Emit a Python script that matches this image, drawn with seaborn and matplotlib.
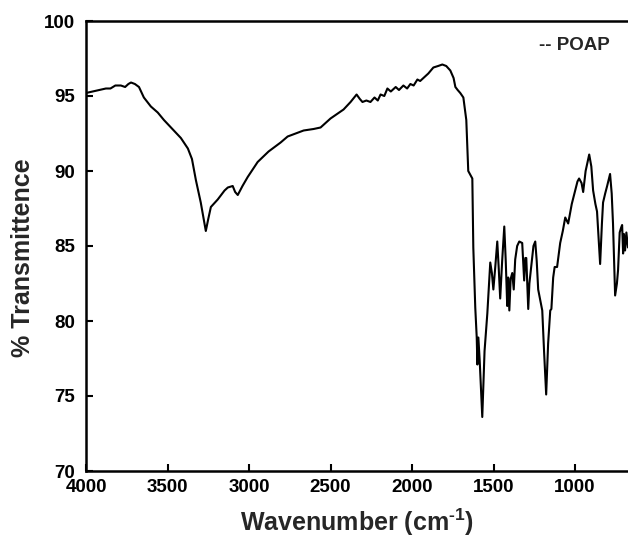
import matplotlib
matplotlib.use("Agg")
import matplotlib.pyplot as plt
import seaborn as sns
import pandas as pd

wavenumber = [
    4000, 3960, 3920, 3878, 3850, 3820, 3786, 3760, 3740, 3724, 3700, 3675,
    3645, 3602, 3560, 3522, 3470, 3418, 3375, 3350, 3326, 3296, 3265, 3250,
    3234, 3192, 3150, 3130, 3100, 3085, 3069, 3040, 3008, 2947, 2880, 2806,
    2763, 2665, 2604, 2561, 2500, 2420, 2377, 2340, 2320, 2304, 2280, 2255,
    2230, 2210, 2193, 2170, 2151, 2130, 2100, 2080, 2053, 2030, 2010, 1990,
    1967, 1950, 1930, 1900, 1869, 1840, 1814, 1790, 1765, 1745, 1734, 1720,
    1704, 1685, 1667, 1660, 1655, 1640, 1630, 1624, 1612, 1603, 1599, 1593,
    1585, 1569, 1555, 1538, 1520, 1510, 1501, 1490, 1477, 1468, 1459, 1447,
    1434, 1425, 1416, 1410, 1403, 1395, 1385, 1376, 1367, 1355, 1342, 1324,
    1318, 1312, 1305, 1299, 1293, 1287, 1280, 1269, 1255, 1244, 1235, 1226,
    1215, 1201, 1190, 1177, 1165, 1152, 1145, 1134, 1125, 1110, 1091, 1075,
    1060, 1042, 1020, 999, 985, 975, 960, 950, 935, 913, 900, 889,
    875, 865, 855, 846, 835, 828, 815, 803, 785, 775, 767, 754,
    743, 736, 726, 718, 711, 705, 700, 693, 685, 675,
]
transmittance = [
    95.2, 95.3, 95.4, 95.5, 95.5, 95.7, 95.7, 95.6, 95.8, 95.9, 95.8, 95.6,
    94.9, 94.3, 93.9, 93.4, 92.8, 92.2, 91.5, 90.8, 89.4, 87.9, 86.0, 86.8,
    87.6, 88.1, 88.7, 88.9, 89.0, 88.6, 88.4, 89.0, 89.6, 90.6, 91.3, 91.9,
    92.3, 92.7, 92.8, 92.9, 93.5, 94.1, 94.6, 95.1, 94.8, 94.6, 94.7, 94.6,
    94.9, 94.7, 95.1, 95.0, 95.5, 95.3, 95.6, 95.4, 95.7, 95.5, 95.8, 95.7,
    96.1, 96.0, 96.2, 96.5, 96.9, 97.0, 97.1, 97.0, 96.7, 96.2, 95.6, 95.4,
    95.2, 94.9, 93.4, 91.5, 90.0, 89.7, 89.5, 84.9, 80.9, 78.9, 77.1, 78.9,
    77.4, 73.6, 78.0, 80.5, 83.9, 83.2, 82.1, 83.5, 85.3, 83.5, 81.5, 84.0,
    86.3, 84.0, 81.0, 82.9, 80.7, 82.8, 83.2, 82.1, 84.1, 85.0, 85.3, 85.2,
    84.0, 82.7, 84.2, 84.2, 82.5, 80.8, 82.5, 83.6, 85.0, 85.3, 84.0, 82.1,
    81.5, 80.7, 78.0, 75.1, 78.5, 80.7, 80.8, 82.9, 83.6, 83.6, 85.2, 86.0,
    86.9, 86.5, 87.8, 88.7, 89.3, 89.5, 89.2, 88.6, 90.0, 91.1, 90.3, 88.7,
    87.8, 87.3, 85.5, 83.8, 86.5, 87.9, 88.5, 89.0, 89.8, 88.5, 86.5, 81.7,
    82.5, 83.4, 85.9, 86.2, 86.4, 84.5, 85.8, 84.7, 85.9, 84.9,
]
x_ticks = [4000, 3500, 3000, 2500, 2000, 1500, 1000]
y_ticks = [70, 75, 80, 85, 90, 95, 100]
series_label = "-- POAP"

df = pd.DataFrame({"Wavenumber": wavenumber, "T": transmittance})

sns.set_style("ticks")
plt.rcParams["font.family"] = ["Liberation Sans", "DejaVu Sans"]
plt.rcParams["font.weight"] = "bold"
plt.rcParams["mathtext.fontset"] = "custom"
plt.rcParams["mathtext.bf"] = "Liberation Sans:bold"
plt.rcParams["mathtext.rm"] = "Liberation Sans:bold"
plt.rcParams["mathtext.default"] = "bf"

fig = plt.figure(figsize=(6.28, 5.36), dpi=100)
ax = fig.add_axes([86 / 628, 1 - 471 / 536, 1 - 86 / 628, (471 - 21) / 536])

sns.lineplot(data=df, x="Wavenumber", y="T", ax=ax, color="black",
             linewidth=1.5, estimator=None, sort=False)

ax.set_xlim(4000, 675)
ax.set_ylim(70, 100)
ax.set_xticks(x_ticks)
ax.set_yticks(y_ticks)
ax.tick_params(direction="in", length=5, width=1.5, labelsize=13.5, colors="black")
ax.tick_params(axis="x", pad=5.5)
ax.tick_params(axis="y", pad=8)
for lab in ax.get_xticklabels() + ax.get_yticklabels():
    lab.set_fontweight("bold")

for side in ["left", "bottom", "top"]:
    ax.spines[side].set_linewidth(1.8)
    ax.spines[side].set_color("black")
ax.spines["right"].set_visible(False)

ax.set_xlabel(r"Wavenumber (cm$^{\text{-}1}$)", fontsize=18, fontweight="bold")
ax.set_ylabel("% Transmittence", fontsize=18, fontweight="bold")
ax.xaxis.set_label_coords(0.5, -0.078)
ax.yaxis.set_label_coords(-0.095, 0.474)

ax.text(786, 98.4, series_label, ha="right", va="center",
        fontsize=13.5, fontweight="bold")

fig.savefig("out.png", dpi=100)
